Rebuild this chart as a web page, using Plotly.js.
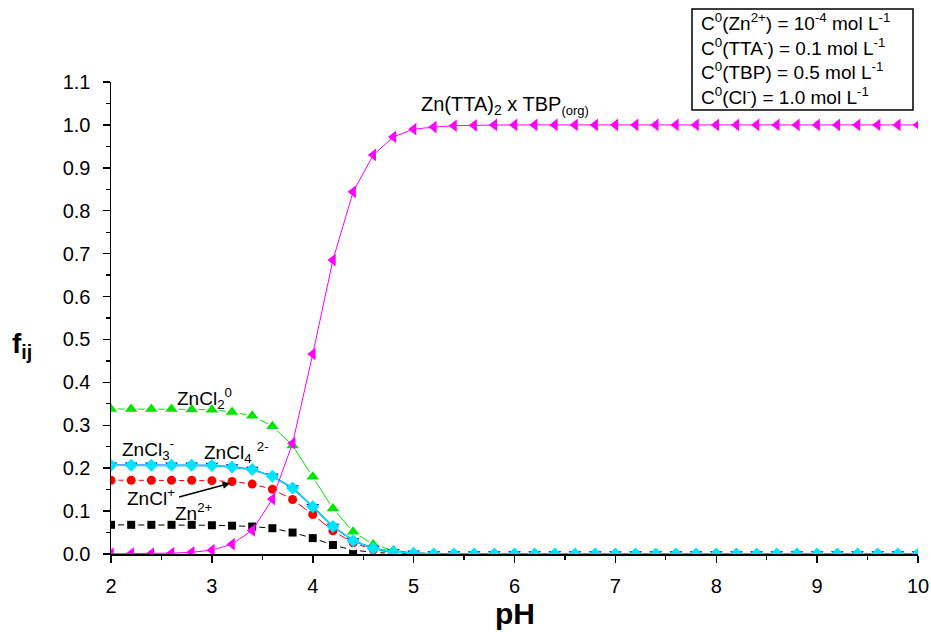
<!DOCTYPE html>
<html>
<head>
<meta charset="utf-8">
<script src="https://cdn.plot.ly/plotly-3.0.1.min.js"></script>
<style>html,body{margin:0;padding:0;background:#fff;}#chart{width:931px;height:632px;}</style>
</head>
<body>
<div id="chart"></div>
<script>
// pH grid
var pH = [2.0,2.2,2.4,2.6,2.8,3.0,3.2,3.4,3.6,3.8,4.0,4.2,4.4,4.6,4.8,5.0,5.2,5.4,5.6,5.8,
          6.0,6.2,6.4,6.6,6.8,7.0,7.2,7.4,7.6,7.8,8.0,8.2,8.4,8.6,8.8,9.0,9.2,9.4,9.6,9.8,10.0];
// species fractions
var fZn = [0.068,0.068,0.068,0.068,0.068,0.067,0.066,0.064,0.060,0.050,0.037,0.021,0.009,0.004,0.001,0.0003,0,0,0,0,
           0,0,0,0,0,0,0,0,0,0,0,0,0,0,0,0,0,0,0,0,0];
var fZnCl = [0.172,0.172,0.172,0.172,0.172,0.171,0.169,0.163,0.151,0.127,0.092,0.054,0.026,0.010,0.004,0.001,0,0,0,0,
             0,0,0,0,0,0,0,0,0,0,0,0,0,0,0,0,0,0,0,0,0];
var fZnCl2 = [0.338,0.338,0.338,0.338,0.337,0.336,0.331,0.322,0.298,0.253,0.180,0.106,0.052,0.022,0.008,0.003,0.001,0,0,0,
              0,0,0,0,0,0,0,0,0,0,0,0,0,0,0,0,0,0,0,0,0];
var fZnCl3 = [0.207,0.207,0.207,0.207,0.207,0.206,0.203,0.197,0.181,0.154,0.110,0.064,0.031,0.013,0.005,0.0015,0,0,0,0,
              0,0,0,0,0,0,0,0,0,0,0,0,0,0,0,0,0,0,0,0,0];
var fZnCl4 = [0.207,0.207,0.207,0.207,0.207,0.206,0.203,0.197,0.181,0.154,0.110,0.064,0.031,0.013,0.005,0.0015,0,0,0,0,
              0,0,0,0,0,0,0,0,0,0,0,0,0,0,0,0,0,0,0,0,0];
var fOrg = [0.0005,0.001,0.001,0.002,0.004,0.009,0.023,0.055,0.128,0.258,0.466,0.685,0.844,0.930,0.972,0.990,0.995,0.998,0.999,1.0,
            1.0,1.0,1.0,1.0,1.0,1.0,1.0,1.0,1.0,1.0,1.0,1.0,1.0,1.0,1.0,1.0,1.0,1.0,1.0,1.0,1.0];
var xTicks = [2,3,4,5,6,7,8,9,10];
var yTicks = [0.0,0.1,0.2,0.3,0.4,0.5,0.6,0.7,0.8,0.9,1.0,1.1];
var conditions = [
  'C<sup>0</sup>(Zn<sup>2+</sup>) = 10<sup>-4</sup> mol L<sup>-1</sup>',
  'C<sup>0</sup>(TTA<sup>-</sup>) = 0.1 mol L<sup>-1</sup>',
  'C<sup>0</sup>(TBP) = 0.5 mol L<sup>-1</sup>',
  'C<sup>0</sup>(Cl<sup>-</sup>) = 1.0 mol L<sup>-1</sup>'
];

var traces = [];
function gapSeries(y, color, symbol, size, lw) {
  traces.push({x: pH, y: y, mode: 'lines', line: {color: color, width: lw}, hoverinfo: 'skip', showlegend: false});
  traces.push({x: pH, y: y, mode: 'markers', marker: {color: '#ffffff', symbol: symbol, size: size + 6}, hoverinfo: 'skip', showlegend: false});
  traces.push({x: pH, y: y, mode: 'markers', marker: {color: color, symbol: symbol, size: size}, showlegend: false});
}
function solidSeries(y, color, symbol, size, lw) {
  traces.push({x: pH, y: y, mode: 'lines+markers', line: {color: color, width: lw},
               marker: {color: color, symbol: symbol, size: size}, showlegend: false});
}
gapSeries(fZn, '#000000', 'square', 8, 1);
gapSeries(fZnCl, '#ff0000', 'circle', 9, 1);
gapSeries(fZnCl2, '#00e600', 'triangle-up', 11, 1);
solidSeries(fZnCl3, '#0000ff', 'triangle-down', 11, 1.5);
solidSeries(fZnCl4, '#00e5ff', 'diamond', 10, 1.5);
solidSeries(fOrg, '#ff00ff', 'triangle-left', 11, 1);

var F = 'Arial, "Liberation Sans", sans-serif';
function lab(x, y, t, sz) {
  return {x: x, y: y, xref: 'x', yref: 'y', text: t, showarrow: false, xanchor: 'left', yanchor: 'middle',
          font: {family: F, size: sz || 19, color: '#000'}};
}
var annotations = [
  lab(2.63, 0.362, 'ZnCl<sub>2</sub><sup>0</sup>'),
  lab(2.09, 0.244, 'ZnCl<sub>3</sub><sup>-</sup>'),
  lab(2.90, 0.236, 'ZnCl<sub>4</sub> <sup>2-</sup>'),
  lab(2.14, 0.133, 'ZnCl<sup>+</sup>'),
  lab(2.61, 0.097, 'Zn<sup>2+</sup>'),
  {x: 5.05, y: 1.045, xref: 'x', yref: 'y', text: 'Zn(TTA)<sub>2</sub> x TBP<sub><span style="font-size:13px">(org)</span></sub>',
   showarrow: false, xanchor: 'left', yanchor: 'middle', font: {family: F, size: 20, color: '#000'}},
  {x: 3.2, y: 0.166, xref: 'x', yref: 'y', ax: 2.66, ay: 0.132, axref: 'x', ayref: 'y', text: '',
   showarrow: true, arrowhead: 2, arrowsize: 1, arrowwidth: 1.5, arrowcolor: '#000', standoff: 2},
  {x: (699 - 111) / 807, y: (554 - 59) / 472, xref: 'paper', yref: 'paper', text: conditions.join('<br>'),
   showarrow: false, align: 'left', xanchor: 'left', yanchor: 'middle', font: {family: F, size: 19, color: '#000'}},
  {x: (22 - 111) / 807, y: (554 - 345) / 472, xref: 'paper', yref: 'paper', text: '<b>f<sub>ij</sub></b>', showarrow: false,
   xanchor: 'center', yanchor: 'middle', font: {family: F, size: 28, color: '#000'}},
  {x: (515 - 111) / 807, y: (554 - 613) / 472, xref: 'paper', yref: 'paper', text: '<b>pH</b>', showarrow: false,
   xanchor: 'center', yanchor: 'middle', font: {family: F, size: 30, color: '#000'}}
];

var layout = {
  width: 931, height: 632,
  margin: {l: 111, r: 13, t: 82, b: 78},
  paper_bgcolor: '#fff', plot_bgcolor: '#fff',
  showlegend: false,
  font: {family: F, color: '#000'},
  xaxis: {
    range: [2, 10], tickvals: xTicks, ticktext: xTicks.map(String),
    showline: true, linecolor: '#000', linewidth: 1.5, ticks: 'outside', ticklen: 7, tickwidth: 1.5, tickcolor: '#000',
    showgrid: false, zeroline: false, ticklabelstandoff: 6,
    tickfont: {family: F, size: 20, color: '#000'},
    minor: {dtick: 0.5, ticks: 'outside', ticklen: 4, tickwidth: 1.2, tickcolor: '#000', showgrid: false}
  },
  yaxis: {
    range: [0, 1.1], tickvals: yTicks, ticktext: yTicks.map(function(v){return v.toFixed(1);}),
    showline: true, linecolor: '#000', linewidth: 1.5, ticks: 'outside', ticklen: 7, tickwidth: 1.5, tickcolor: '#000',
    showgrid: false, zeroline: false, ticklabelstandoff: 8,
    tickfont: {family: F, size: 20, color: '#000'},
    minor: {dtick: 0.05, ticks: 'outside', ticklen: 4, tickwidth: 1.2, tickcolor: '#000', showgrid: false}
  },
  shapes: [{type: 'rect', xref: 'paper', yref: 'paper', x0: (692 - 111) / 807, x1: (913 - 111) / 807,
            y0: (554 - 110) / 472, y1: (554 - 9) / 472, line: {color: '#000', width: 1.5}, fillcolor: 'rgba(0,0,0,0)'}],
  annotations: annotations
};
Plotly.newPlot('chart', traces, layout, {displayModeBar: false, staticPlot: true});
</script>
</body>
</html>
